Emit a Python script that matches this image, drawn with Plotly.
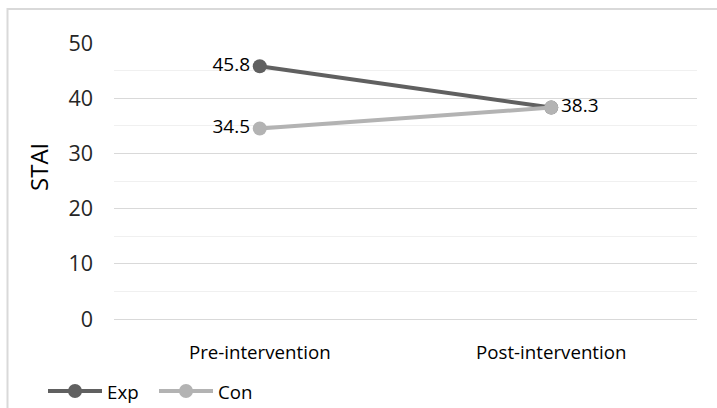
import plotly.graph_objects as go

# STAI scores by group and time point
phases = ["Pre-intervention", "Post-intervention"]
exp_scores = [45.8, 38.3]
con_scores = [34.5, 38.3]
series_names = ["Exp", "Con"]
series_colors = ["#606060", "#b3b3b3"]
y_ticks = [0, 10, 20, 30, 40, 50]
y_title = "STAI"

FONT = "Open Sans, Noto Sans, sans-serif"
W, H = 717, 408
L, R, T, B = 114, 20, 43, 89
pw, ph = W - L - R, H - T - B


def px_x(p):
    return (p - L) / pw


def px_y(p):
    return (H - B - p) / ph


fig = go.Figure()
# Both groups share the post-intervention value, so that label is written once (by Con)
exp_labels = [f"{exp_scores[0]:.1f}", ""]
con_labels = [f"{v:.1f}" for v in con_scores]
series = [(series_names[0], exp_scores, series_colors[0], exp_labels),
          (series_names[1], con_scores, series_colors[1], con_labels)]
for name, vals, color, labels in series:
    fig.add_trace(go.Scatter(
        x=phases, y=vals, name=name, mode="lines+markers+text",
        line=dict(color=color, width=4),
        marker=dict(size=14, color=color),
        text=labels,
        textposition=["middle left", "middle right"],
        textfont=dict(family=FONT, size=19, color="#000000"),
        showlegend=False,
    ))

# Legend drawn as line + dot + label along the bottom
shapes = [dict(type="rect", xref="paper", yref="paper",
               x0=px_x(7.5), x1=px_x(740), y0=px_y(430), y1=px_y(9),
               line=dict(color="#d9d9d9", width=2), fillcolor="rgba(0,0,0,0)", layer="below")]
annotations = []
leg_y = px_y(391)
for (name, color, x0) in [(series_names[0], series_colors[0], 48), (series_names[1], series_colors[1], 159)]:
    shapes.append(dict(type="line", xref="paper", yref="paper",
                       x0=px_x(x0), x1=px_x(x0 + 54), y0=leg_y, y1=leg_y,
                       line=dict(color=color, width=4)))
    shapes.append(dict(type="circle", xref="paper", yref="paper",
                       xsizemode="pixel", ysizemode="pixel",
                       xanchor=px_x(x0 + 27), yanchor=leg_y,
                       x0=-7, x1=7, y0=-7, y1=7,
                       line=dict(color=color, width=0), fillcolor=color))
    annotations.append(dict(xref="paper", yref="paper", x=px_x(x0 + 57), y=leg_y,
                            xanchor="left", yanchor="middle", showarrow=False,
                            text=name, font=dict(family=FONT, size=18.7, color="#000000")))

annotations.append(dict(xref="paper", yref="paper", x=px_x(38.5), y=px_y(167.5),
                        xanchor="center", yanchor="middle", showarrow=False, textangle=-90,
                        text=y_title, font=dict(family=FONT, size=24, color="#000000")))

fig.update_layout(
    width=W, height=H,
    margin=dict(l=L, r=R, t=T, b=B),
    paper_bgcolor="white", plot_bgcolor="white",
    font=dict(family=FONT, color="#000000"),
    showlegend=False,
    shapes=shapes,
    annotations=annotations,
)
fig.update_xaxes(
    type="category", range=[-0.5, 1.5], showgrid=False, zeroline=False,
    showline=False, ticks="", ticklabelstandoff=20, automargin=False,
    tickfont=dict(family=FONT, size=18.7, color="#000000"),
)
fig.update_yaxes(
    range=[0, 50], tickvals=y_ticks, showgrid=True, gridcolor="#d9d9d9", gridwidth=1,
    zeroline=True, zerolinecolor="#d9d9d9", zerolinewidth=1,
    showline=False, ticks="", ticklabelstandoff=20, automargin=False,
    tickfont=dict(family=FONT, size=21.5, color="#262626"),
    minor=dict(dtick=5, showgrid=True, gridcolor="#f0f0f0", gridwidth=1),
)

fig.write_html("out.html")
